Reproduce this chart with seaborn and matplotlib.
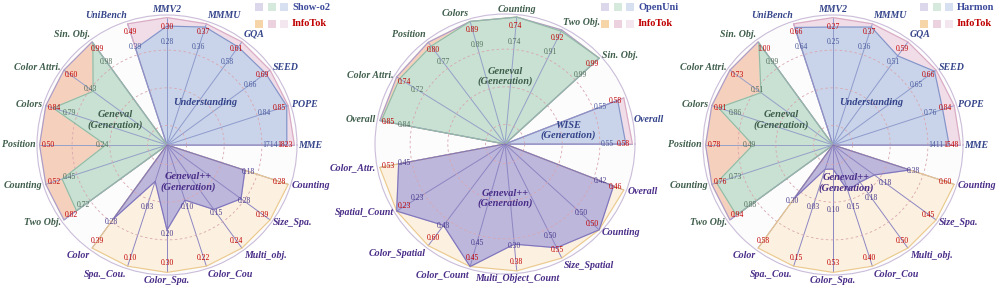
import numpy as np
import pandas as pd
import matplotlib
matplotlib.use("Agg")
import matplotlib.pyplot as plt
from matplotlib.patches import Rectangle
import seaborn as sns

sns.set_theme(style="white")
plt.rcParams["font.family"] = ["Liberation Serif", "DejaVu Serif"]

# ---- data ----
under_labels = ["MME", "POPE", "SEED", "GQA", "MMMU", "MMV2", "UniBench"]
gen_labels = ["Sin. Obj.", "Color Attri.", "Colors", "Position", "Counting", "Two Obj."]
pp_labels = ["Color", "Spa._Cou.", "Color_Spa.", "Color_Cou", "Multi_obj.", "Size_Spa.", "Counting"]

showo2_under = [1714, 0.84, 0.66, 0.58, 0.36, 0.28, 0.39]
info_l_under = [1823, 0.85, 0.69, 0.61, 0.37, 0.30, 0.49]
showo2_gen = [0.98, 0.43, 0.79, 0.24, 0.45, 0.72]
info_l_gen = [0.99, 0.60, 0.84, 0.50, 0.52, 0.82]
showo2_pp = [0.28, 0.03, 0.20, 0.10, 0.15, 0.28, 0.18]
info_l_pp = [0.39, 0.10, 0.30, 0.22, 0.24, 0.39, 0.28]

wise_labels = ["Overall", "Overall"]
mid_gen_labels = ["Sin. Obj.", "Two Obj.", "Counting", "Colors", "Position", "Color Attri.", "Overall"]
mid_pp_labels = ["Color_Attr.", "Spatial_Count", "Color_Spatial", "Color_Count",
                 "Multi_Object_Count", "Size_Spatial", "Counting", "Overall"]

openuni_wise = [0.55, 0.55]
info_m_wise = [0.58, 0.58]
openuni_gen = [0.99, 0.91, 0.74, 0.89, 0.77, 0.72, 0.84]
info_m_gen = [0.99, 0.92, 0.74, 0.89, 0.80, 0.74, 0.85]
openuni_pp = [0.45, 0.23, 0.48, 0.45, 0.30, 0.50, 0.50, 0.42]
info_m_pp = [0.53, 0.23, 0.60, 0.45, 0.38, 0.55, 0.50, 0.46]

harmon_under = [1411, 0.76, 0.65, 0.51, 0.36, 0.25, 0.64]
info_r_under = [1548, 0.84, 0.66, 0.59, 0.37, 0.27, 0.66]
harmon_gen = [0.99, 0.51, 0.86, 0.49, 0.73, 0.88]
info_r_gen = [1.00, 0.73, 0.91, 0.78, 0.76, 0.94]
harmon_pp = [0.30, 0.03, 0.10, 0.15, 0.18, 0.18, 0.38]
info_r_pp = [0.58, 0.15, 0.53, 0.40, 0.50, 0.45, 0.60]

RED = "#c00000"
STYLE = {
    "under": dict(bf="#c9d4ea", be="#8492c8", inf="#f1dde7", ie="#d9aac4", sp="#8f9bcc", txt="#34448a", val="#4a5a9c"),
    "wise": dict(bf="#c9d4ea", be="#8492c8", inf="#f1dde7", ie="#d9aac4", sp="#8f9bcc", txt="#34448a", val="#4a5a9c"),
    "gen": dict(bf="#c8e1d2", be="#93b9a3", inf="#f5d0bd", ie="#a99ccc", sp="#96a0c8", txt="#3f5e4c", val="#55705e"),
    "pp": dict(bf="#bdb7dc", be="#7f74bb", inf="#fcf1e0", ie="#ebc98e", sp="#8d86c2", txt="#4a2d88", val="#4b3b8c"),
}
SCALE = 0.98


def build(groups):
    n = sum(len(g[1]) for g in groups)
    step = 2 * np.pi / n
    rows, i = [], 0
    for kind, labels, base, info in groups:
        for lab, b, v in zip(labels, base, info):
            m = max(b, v)
            rows.append(dict(group=kind, label=lab, theta=i * step, v_base=b, v_info=v,
                             r_base=b / m * SCALE, r_info=v / m * SCALE))
            i += 1
    return pd.DataFrame(rows)


def fmt(v):
    return f"{v:.0f}" if v >= 10 else f"{v:.2f}"


def draw_radar(ax, df, titles):
    ax.set_facecolor("#fcfcfd")
    ax.set_ylim(0, 1.0)
    ax.set_xticks([])
    ax.set_yticks([])
    ax.grid(False)
    ax.spines["polar"].set_color("#cbbdd9")
    ax.spines["polar"].set_linewidth(0.8)

    for g, sub in df.groupby("group", sort=False):
        st = STYLE[g]
        th = np.r_[sub["theta"].iloc[0], sub["theta"].values, sub["theta"].iloc[-1]]
        ri = np.r_[0, sub["r_info"].values, 0]
        rb = np.r_[0, sub["r_base"].values, 0]
        ax.fill(th, ri, color=st["inf"], zorder=1)
        ax.plot(th, ri, color=st["ie"], lw=0.8, zorder=4)
        ax.fill(th, rb, color=st["bf"], zorder=2)
        ax.plot(th, rb, color=st["be"], lw=0.8, zorder=4)
        for _, row in sub.iterrows():
            t = row["theta"]
            ax.plot([t, t], [0, max(row["r_base"], row["r_info"])],
                    color=st["sp"], lw=0.7, zorder=3)
            ax.text(t, 0.91, fmt(row["v_info"]), color=RED, fontsize=5.5,
                    ha="center", va="center", zorder=6)
            rlab = np.clip(row["r_base"] + 0.03, 0.5, 0.79)
            ax.text(t, rlab, fmt(row["v_base"]), color=st["val"], fontsize=5.5,
                    ha="center", va="center", zorder=6)

        # axis names just outside the circle
        if sub["label"].nunique() == 1:
            items = [(sub["theta"].mean(), sub["label"].iloc[0])]
        else:
            items = list(zip(sub["theta"], sub["label"]))
        for t, lab in items:
            c, s = np.cos(t), np.sin(t)
            ha = "left" if c > 0.2 else ("right" if c < -0.2 else "center")
            va = "bottom" if s > 0.75 else ("top" if s < -0.75 else "center")
            ax.text(t, 1.008, lab, ha=ha, va=va, fontsize=7.1, fontweight="bold",
                    style="italic", color=st["txt"], zorder=6)

        ang, rr, title = titles[g]
        ax.text(np.deg2rad(ang), rr, title, ha="center", va="center", fontsize=7.5,
                fontweight="bold", style="italic", color=st["txt"], zorder=6,
                linespacing=1.1)

    t = np.linspace(0, 2 * np.pi, 400)
    for r in [0.15, 0.44, 0.73]:
        ax.plot(t, np.full_like(t, r), color="#d9a6ae", lw=0.6, ls=(0, (3, 3)), zorder=3.5)


def legend(fig, x0, y0, name, name_color):
    W, H = 997, 290
    top = ["#dcd7ea", "#d5e9dd", "#d6e0f0"]
    bot = ["#f6d5a8", "#ecd2de", "#f4e6ee"]
    for row, (cols, lab, lc) in enumerate([(top, name, name_color), (bot, "InfoTok", RED)]):
        yc = y0 + row * 17
        for k, c in enumerate(cols):
            fig.add_artist(Rectangle(((x0 + k * 12.5) / W, (H - yc - 4) / H), 8 / W, 8 / H,
                                     transform=fig.transFigure, color=c, lw=0))
        fig.text((x0 + 37) / W, (H - yc) / H, lab, ha="left", va="center", fontsize=7.5,
                 fontweight="bold", color=lc)


left_df = build([("under", under_labels, showo2_under, info_l_under),
                 ("gen", gen_labels, showo2_gen, info_l_gen),
                 ("pp", pp_labels, showo2_pp, info_l_pp)])
mid_df = build([("wise", wise_labels, openuni_wise, info_m_wise),
                ("gen", mid_gen_labels, openuni_gen, info_m_gen),
                ("pp", mid_pp_labels, openuni_pp, info_m_pp)])
right_df = build([("under", under_labels, harmon_under, info_r_under),
                  ("gen", gen_labels, harmon_gen, info_r_gen),
                  ("pp", pp_labels, harmon_pp, info_r_pp)])

side_titles = {"under": (48, 0.44, "Understanding"),
               "gen": (154, 0.44, "Geneval\n(Generation)"),
               "pp": (300, 0.33, "Geneval++\n(Generation)")}
right_titles = dict(side_titles, pp=(289, 0.31, "Geneval++\n(Generation)"))
mid_titles = {"wise": (12, 0.50, "WISE\n(Generation)"),
              "gen": (90, 0.52, "Geneval\n(Generation)"),
              "pp": (270, 0.42, "Geneval++\n(Generation)")}

fig = plt.figure(figsize=(9.97, 2.90), dpi=100)
R = 130
for cx, cy, df, titles in [(167, 145, left_df, side_titles),
                           (505, 144, mid_df, mid_titles),
                           (833, 145, right_df, right_titles)]:
    ax = fig.add_axes([(cx - R) / 997, (290 - cy - R) / 290, 2 * R / 997, 2 * R / 290],
                      projection="polar")
    draw_radar(ax, df, titles)

legend(fig, 255, 7, "Show-o2", "#3b4a9a")
legend(fig, 601, 7, "OpenUni", "#3b4a9a")
legend(fig, 920, 7, "Harmon", "#3b4a9a")

fig.savefig("out.png", dpi=100)
